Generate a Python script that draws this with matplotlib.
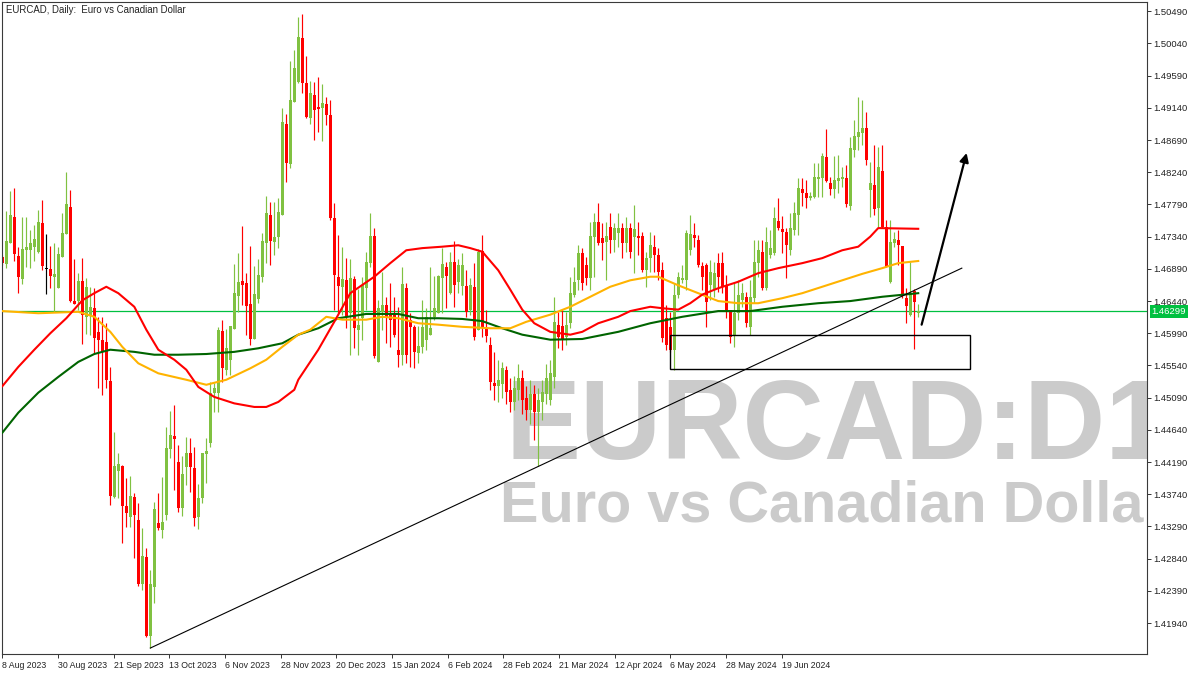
import matplotlib
matplotlib.use("Agg")
import matplotlib.pyplot as plt
import numpy as np
from matplotlib.patches import Rectangle

# ---------------- data ----------------
opens = [1.4706,1.4696,1.4725,1.4762,1.4707,1.4675,1.4715,1.4715,1.4720,1.4713,
         1.4753,1.4689,1.4689,1.4678,1.4662,1.4706,1.4738,1.4776,1.4644,1.4644,
         1.4672,1.4622,1.4625,1.4634,1.4601,1.4590,1.4587,1.4532,1.4370,1.4406,
         1.4413,1.4358,1.4342,1.4370,1.4338,1.4249,1.4286,1.4176,1.4244,1.4334,
         1.4324,1.4345,1.4437,1.4455,1.4419,1.4355,1.4412,1.4432,1.4411,1.4342,
         1.4369,1.4430,1.4446,1.4516,1.4516,1.4602,1.4548,1.4562,1.4605,1.4651,
         1.4672,1.4669,1.4640,1.4591,1.4647,1.4678,1.4725,1.4764,1.4727,1.4734,
         1.4764,1.4891,1.4836,1.4922,1.4950,1.5012,1.4949,1.4900,1.4932,1.4915,
         1.4914,1.4919,1.4904,1.4760,1.4678,1.4664,1.4673,1.4627,1.4675,1.4604,
         1.4620,1.4662,1.4697,1.4735,1.4559,1.4629,1.4639,1.4627,1.4625,1.4576,
         1.4569,1.4662,1.4618,1.4608,1.4571,1.4580,1.4590,1.4597,1.4622,1.4627,
         1.4676,1.4692,1.4655,1.4699,1.4671,1.4665,1.4665,1.4632,1.4664,1.4604,
         1.4714,1.4606,1.4583,1.4529,1.4525,1.4528,1.4548,1.4520,1.4503,1.4520,
         1.4536,1.4509,1.4492,1.4514,1.4489,1.4503,1.4514,1.4506,1.4538,1.4611,
         1.4609,1.4594,1.4613,1.4653,1.4673,1.4711,1.4694,1.4676,1.4734,1.4755,
         1.4732,1.4727,1.4748,1.4729,1.4739,1.4746,1.4725,1.4746,1.4734,1.4735,
         1.4735,1.4687,1.4704,1.4720,1.4708,1.4687,1.4620,1.4608,1.4576,1.4653,
         1.4673,1.4673,1.4715,1.4736,1.4729,1.4693,1.4694,1.4666,1.4660,1.4697,
         1.4697,1.4666,1.4632,1.4597,1.4627,1.4645,1.4650,1.4608,1.4648,1.4697,
         1.4713,1.4662,1.4708,1.4711,1.4756,1.4745,1.4741,1.4715,1.4743,1.4764,
         1.4801,1.4795,1.4788,1.4789,1.4815,1.4816,1.4845,1.4809,1.4801,1.4812,
         1.4815,1.4816,1.4777,1.4855,1.4873,1.4879,1.4886,1.4799,1.4806,1.4774,
         1.4826,1.4748,1.4671,1.4725,1.4729,1.4721,1.4648,1.4625,1.4658,1.4627]
highs = [1.4708,1.4770,1.4798,1.4802,1.4720,1.4762,1.4762,1.4743,1.4750,1.4771,
         1.4785,1.4738,1.4721,1.4725,1.4720,1.4767,1.4824,1.4799,1.4703,1.4683,
         1.4704,1.4676,1.4664,1.4662,1.4622,1.4622,1.4613,1.4552,1.4461,1.4432,
         1.4415,1.4397,1.4399,1.4376,1.4362,1.4327,1.4299,1.4268,1.4363,1.4376,
         1.4398,1.4468,1.4490,1.4499,1.4443,1.4427,1.4454,1.4453,1.4440,1.4388,
         1.4432,1.4453,1.4531,1.4529,1.4608,1.4618,1.4605,1.4609,1.4696,1.4711,
         1.4749,1.4683,1.4721,1.4693,1.4703,1.4739,1.4791,1.4782,1.4782,1.4788,
         1.4914,1.4905,1.4980,1.4995,1.5041,1.5045,1.4987,1.4952,1.4950,1.4957,
         1.4947,1.4929,1.4925,1.4781,1.4736,1.4720,1.4704,1.4703,1.4679,1.4661,
         1.4678,1.4713,1.4767,1.4746,1.4645,1.4685,1.4650,1.4669,1.4650,1.4636,
         1.4692,1.4669,1.4627,1.4611,1.4609,1.4645,1.4634,1.4692,1.4679,1.4680,
         1.4718,1.4699,1.4713,1.4728,1.4703,1.4711,1.4687,1.4676,1.4697,1.4717,
         1.4736,1.4632,1.4594,1.4573,1.4562,1.4559,1.4553,1.4536,1.4539,1.4556,
         1.4548,1.4525,1.4534,1.4527,1.4523,1.4534,1.4556,1.4562,1.4650,1.4629,
         1.4632,1.4629,1.4678,1.4692,1.4722,1.4718,1.4706,1.4755,1.4767,1.4781,
         1.4753,1.4755,1.4767,1.4753,1.4767,1.4753,1.4762,1.4753,1.4778,1.4755,
         1.4741,1.4713,1.4741,1.4736,1.4718,1.4699,1.4639,1.4629,1.4669,1.4685,
         1.4694,1.4743,1.4764,1.4753,1.4736,1.4699,1.4697,1.4701,1.4699,1.4711,
         1.4713,1.4680,1.4632,1.4671,1.4673,1.4669,1.4657,1.4673,1.4729,1.4729,
         1.4729,1.4748,1.4743,1.4776,1.4788,1.4763,1.4746,1.4767,1.4782,1.4816,
         1.4816,1.4813,1.4796,1.4837,1.4837,1.4851,1.4884,1.4817,1.4847,1.4848,
         1.4831,1.4834,1.4873,1.4897,1.4929,1.4925,1.4908,1.4838,1.4862,1.4859,
         1.4862,1.4757,1.4757,1.4741,1.4743,1.4721,1.4662,1.4699,1.4661,1.4640]
lows = [1.4694,1.4690,1.4725,1.4700,1.4655,1.4668,1.4692,1.4690,1.4700,1.4711,
        1.4687,1.4654,1.4662,1.4629,1.4662,1.4706,1.4738,1.4643,1.4640,1.4632,
        1.4584,1.4598,1.4597,1.4571,1.4523,1.4513,1.4523,1.4359,1.4369,1.4369,
        1.4306,1.4328,1.4328,1.4285,1.4246,1.4240,1.4174,1.4159,1.4222,1.4324,
        1.4313,1.4338,1.4425,1.4380,1.4349,1.4344,1.4387,1.4377,1.4330,1.4325,
        1.4362,1.4390,1.4440,1.4489,1.4489,1.4531,1.4541,1.4541,1.4605,1.4629,
        1.4639,1.4597,1.4583,1.4591,1.4641,1.4671,1.4697,1.4694,1.4708,1.4718,
        1.4764,1.4810,1.4830,1.4922,1.4949,1.4935,1.4900,1.4891,1.4869,1.4880,
        1.4868,1.4890,1.4757,1.4632,1.4627,1.4625,1.4606,1.4569,1.4578,1.4569,
        1.4590,1.4632,1.4692,1.4564,1.4559,1.4604,1.4585,1.4580,1.4594,1.4552,
        1.4555,1.4557,1.4552,1.4550,1.4557,1.4571,1.4576,1.4597,1.4618,1.4627,
        1.4627,1.4634,1.4654,1.4636,1.4655,1.4653,1.4622,1.4625,1.4590,1.4604,
        1.4594,1.4587,1.4520,1.4506,1.4503,1.4509,1.4500,1.4489,1.4492,1.4506,
        1.4486,1.4478,1.4472,1.4450,1.4413,1.4478,1.4500,1.4499,1.4523,1.4578,
        1.4576,1.4583,1.4606,1.4650,1.4660,1.4660,1.4666,1.4660,1.4678,1.4722,
        1.4701,1.4673,1.4711,1.4713,1.4720,1.4704,1.4713,1.4704,1.4683,1.4708,
        1.4685,1.4664,1.4685,1.4685,1.4673,1.4587,1.4576,1.4573,1.4548,1.4648,
        1.4669,1.4660,1.4708,1.4720,1.4692,1.4660,1.4608,1.4645,1.4650,1.4657,
        1.4655,1.4620,1.4585,1.4580,1.4618,1.4636,1.4608,1.4597,1.4641,1.4678,
        1.4660,1.4660,1.4704,1.4708,1.4743,1.4711,1.4676,1.4708,1.4736,1.4736,
        1.4777,1.4774,1.4785,1.4788,1.4789,1.4789,1.4810,1.4792,1.4788,1.4795,
        1.4803,1.4776,1.4771,1.4845,1.4855,1.4862,1.4834,1.4762,1.4764,1.4748,
        1.4746,1.4692,1.4669,1.4720,1.4694,1.4648,1.4613,1.4623,1.4577,1.4622]
closes = [1.4697,1.4728,1.4764,1.4710,1.4678,1.4717,1.4720,1.4725,1.4731,1.4755,
          1.4693,1.4689,1.4679,1.4682,1.4710,1.4739,1.4780,1.4644,1.4640,1.4672,
          1.4625,1.4664,1.4636,1.4592,1.4590,1.4573,1.4534,1.4372,1.4413,1.4416,
          1.4358,1.4348,1.4372,1.4345,1.4249,1.4288,1.4176,1.4249,1.4353,1.4327,
          1.4335,1.4439,1.4457,1.4451,1.4355,1.4402,1.4432,1.4412,1.4341,1.4369,
          1.4432,1.4434,1.4516,1.4523,1.4604,1.4550,1.4578,1.4609,1.4655,1.4671,
          1.4666,1.4637,1.4591,1.4654,1.4680,1.4728,1.4767,1.4728,1.4734,1.4769,
          1.4894,1.4837,1.4925,1.4970,1.5013,1.4949,1.4901,1.4935,1.4911,1.4912,
          1.4921,1.4904,1.4760,1.4680,1.4665,1.4675,1.4622,1.4676,1.4606,1.4611,
          1.4666,1.4699,1.4735,1.4567,1.4634,1.4639,1.4620,1.4618,1.4597,1.4569,
          1.4668,1.4569,1.4608,1.4573,1.4581,1.4608,1.4622,1.4606,1.4634,1.4679,
          1.4696,1.4679,1.4699,1.4666,1.4694,1.4694,1.4629,1.4666,1.4594,1.4713,
          1.4606,1.4595,1.4531,1.4525,1.4534,1.4550,1.4517,1.4503,1.4523,1.4536,
          1.4506,1.4492,1.4514,1.4489,1.4506,1.4517,1.4536,1.4543,1.4615,1.4594,
          1.4590,1.4611,1.4655,1.4671,1.4711,1.4669,1.4676,1.4735,1.4755,1.4725,
          1.4725,1.4735,1.4729,1.4746,1.4746,1.4725,1.4746,1.4713,1.4745,1.4732,
          1.4687,1.4704,1.4722,1.4708,1.4685,1.4592,1.4583,1.4576,1.4653,1.4678,
          1.4676,1.4739,1.4738,1.4732,1.4694,1.4678,1.4643,1.4685,1.4683,1.4678,
          1.4664,1.4632,1.4594,1.4627,1.4653,1.4655,1.4613,1.4650,1.4699,1.4715,
          1.4662,1.4727,1.4718,1.4760,1.4746,1.4741,1.4722,1.4746,1.4767,1.4802,
          1.4795,1.4788,1.4791,1.4817,1.4817,1.4847,1.4812,1.4801,1.4813,1.4816,
          1.4817,1.4780,1.4858,1.4875,1.4880,1.4886,1.4841,1.4809,1.4773,1.4831,
          1.4748,1.4692,1.4727,1.4731,1.4722,1.4651,1.4637,1.4655,1.4643,1.4630]

# moving averages, read at sampled bars (bar index, price)
ma_red_idx = [0,4,8,12,16,20,23,26,29,33,36,39,43,46,49,53,58,63,66,69,
              73,74,79,83,87,93,97,101,105,110,114,117,120,124,127,130,133,137,142,145,
              149,154,157,162,165,169,172,175,179,184,189,194,200,205,210,214,217,219,229]
ma_red = [1.4525,1.4552,1.4576,1.4599,1.4620,1.4645,1.4655,1.4664,1.4655,1.4636,
          1.4604,1.4576,1.4562,1.4548,1.4524,1.4510,1.4501,1.4496,1.4496,1.4503,
          1.4520,1.4534,1.4576,1.4615,1.4655,1.4678,1.4697,1.4715,1.4718,1.4720,
          1.4722,1.4718,1.4713,1.4687,1.4660,1.4632,1.4613,1.4601,1.4597,1.4601,
          1.4613,1.4622,1.4630,1.4636,1.4634,1.4632,1.4641,1.4653,1.4662,1.4671,
          1.4683,1.4690,1.4697,1.4704,1.4715,1.4720,1.4734,1.4746,1.4745]
ma_orange_idx = [0,9,19,23,27,30,34,39,46,51,56,62,66,70,74,77,81,85,91,95,
                 99,104,109,115,122,127,131,137,142,147,152,157,162,164,169,174,179,184,189,195,
                 200,205,210,215,220,224,229]
ma_orange = [1.4630,1.4627,1.4629,1.4622,1.4601,1.4580,1.4557,1.4543,1.4534,1.4527,
             1.4534,1.4550,1.4562,1.4580,1.4597,1.4604,1.4622,1.4618,1.4618,1.4622,
             1.4620,1.4613,1.4611,1.4608,1.4606,1.4606,1.4615,1.4625,1.4636,1.4650,
             1.4664,1.4673,1.4678,1.4678,1.4666,1.4655,1.4644,1.4641,1.4641,1.4648,
             1.4655,1.4664,1.4673,1.4682,1.4690,1.4697,1.4700]
ma_green_idx = [0,4,9,14,19,23,27,33,38,44,51,58,64,70,74,79,84,91,99,104,
                109,115,120,125,130,137,145,154,162,170,179,187,195,204,212,220,229]
ma_green = [1.4460,1.4488,1.4516,1.4538,1.4559,1.4570,1.4576,1.4573,1.4569,1.4569,
            1.4570,1.4573,1.4578,1.4585,1.4597,1.4606,1.4620,1.4626,1.4626,1.4620,
            1.4620,1.4619,1.4616,1.4606,1.4597,1.4590,1.4591,1.4601,1.4613,1.4622,
            1.4630,1.4630,1.4636,1.4641,1.4644,1.4650,1.4655]

current_price = 1.46299
date_labels = ["8 Aug 2023", "30 Aug 2023", "21 Sep 2023", "13 Oct 2023", "6 Nov 2023",
               "28 Nov 2023", "20 Dec 2023", "15 Jan 2024", "6 Feb 2024", "28 Feb 2024",
               "21 Mar 2024", "12 Apr 2024", "6 May 2024", "28 May 2024", "19 Jun 2024"]
price_ticks = [1.41940, 1.42390, 1.42840, 1.43290, 1.43740, 1.44190, 1.44640, 1.45090,
               1.45540, 1.45990, 1.46440, 1.46890, 1.47340, 1.47790, 1.48240, 1.48690,
               1.49140, 1.49590, 1.50040, 1.50490]

# analyst drawings (bar index / price anchors)
trend_end = (239.9, 1.4690)
zone_x = (166.9, 242.0)
zone_y = (1.4549, 1.4597)
arrow_from = (229.85, 1.4611)
arrow_to = (241.1, 1.4851)

# ---------------- drawing ----------------
W, H = 1200, 675
fig = plt.figure(figsize=(W / 100, H / 100), dpi=100)
fig.patch.set_facecolor("white")
ax = fig.add_axes([2 / W, 21 / H, 1145 / W, 652 / H])
ax.set_facecolor("white")

o = np.array(opens); h = np.array(highs); l = np.array(lows); c = np.array(closes)
x = np.arange(len(o))
bull, bear = "#80c141", "#ff0000"
cols = np.where(c > o, bull, np.where(c < o, bear, "#000000"))

ax.vlines(x, l, h, colors=cols, linewidth=0.85, zorder=2)
body_bottom = np.minimum(o, c)
body_h = np.maximum(np.abs(c - o), 0.00012)
ax.bar(x, body_h, bottom=body_bottom, width=0.72, color=cols, linewidth=0, zorder=2)

# moving averages
ax.plot(ma_green_idx, ma_green, color="#006400", lw=1.5, zorder=3)
ax.plot(ma_orange_idx, ma_orange, color="#ffb300", lw=1.5, zorder=3)
ax.plot(ma_red_idx, ma_red, color="#ff0000", lw=1.5, zorder=3)

# current price line
ax.axhline(current_price, color="#00c040", lw=0.9, zorder=1.5)

# trend line from the swing low
i_low = int(np.argmin(l))
ax.plot([i_low, trend_end[0]], [l[i_low], trend_end[1]], color="black", lw=0.8, zorder=4)

# demand zone rectangle
ax.add_patch(Rectangle((zone_x[0], zone_y[0]), zone_x[1] - zone_x[0], zone_y[1] - zone_y[0],
                       fill=False, ec="black", lw=1.0, zorder=4))

# arrow
ax.annotate("", xy=arrow_to, xytext=arrow_from,
            arrowprops=dict(arrowstyle="-|>", color="black", lw=1.6, mutation_scale=13,
                            shrinkA=0, shrinkB=0), zorder=5)

# watermark
wm_font = "Liberation Sans"
t1 = ax.text(0.440, 0.299, "EURCAD:D1", transform=ax.transAxes, fontsize=81,
             fontweight="bold", family=wm_font, color="#cbcbcb", ha="left",
             va="baseline", zorder=0)
t2 = ax.text(0.435, 0.2025, "Euro vs Canadian Dollar", transform=ax.transAxes,
             fontsize=41.5, fontweight="bold", family=wm_font, color="#cbcbcb",
             ha="left", va="baseline", zorder=0)
for t in (t1, t2):
    t.set_clip_on(True)
    t.set_clip_box(ax.bbox)

# axes limits
ax.set_xlim(-0.08, 286.2)
ax.set_ylim(1.41507, 1.50620)

# ticks
lab_font = "Liberation Sans"
tick_step = 13.917
ax.set_xticks([k * tick_step for k in range(len(date_labels))])
ax.set_xticklabels(date_labels, fontsize=6.3, family=lab_font, color="#222222", ha="left")
ax.yaxis.tick_right()
ax.set_yticks(price_ticks)
ax.set_yticklabels([f"{v:.5f}" for v in price_ticks], fontsize=6.8, family=lab_font,
                   color="#222222")
ax.tick_params(axis="both", direction="out", length=3, width=0.7, color="#333333")
ax.tick_params(axis="x", pad=1.8)
ax.tick_params(axis="y", pad=1.5)
for sp in ax.spines.values():
    sp.set_color("#3a3a3a")
    sp.set_linewidth(0.8)

# current price tag
ax.annotate(f"{current_price:.5f}", xy=(1.0, current_price), xycoords=("axes fraction", "data"),
            xytext=(3.2, 0), textcoords="offset points", ha="left", va="center",
            fontsize=6.8, family=lab_font, color="white",
            bbox=dict(boxstyle="square,pad=0.2", fc="#00c040", ec="none"),
            annotation_clip=False, zorder=6)

# title
ax.text(0.0035, 0.995, "EURCAD, Daily:  Euro vs Canadian Dollar", transform=ax.transAxes,
        ha="left", va="top", fontsize=6.9, family=lab_font, color="#222222", zorder=6)

fig.savefig("out.png", dpi=100)
